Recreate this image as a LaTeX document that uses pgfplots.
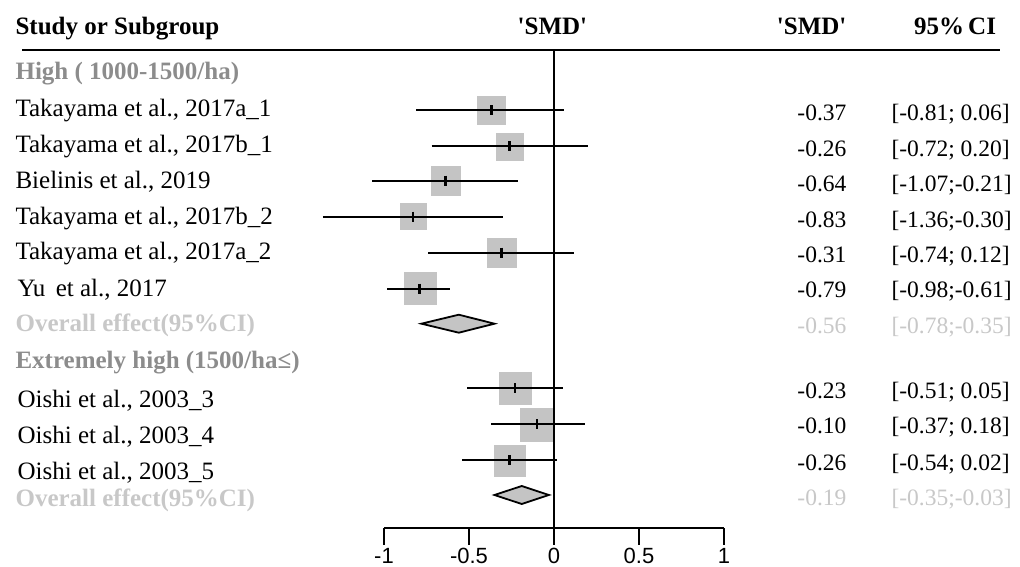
\documentclass[border=0pt]{standalone}
\usepackage{pgfplots}
\usepackage{pgfplotstable}
\pgfplotsset{compat=1.18}
\usepackage{fontspec}
\setmainfont{Liberation Serif}
\newfontfamily\tickfont{Liberation Sans}
\definecolor{sqgray}{HTML}{C4C4C4}
\definecolor{grpgray}{HTML}{8C8C8C}
\definecolor{ovgray}{HTML}{C8C8C8}
\newcommand\mf{\fontsize{25}{30}\selectfont}
\newcommand\rf{\fontsize{23.5}{28}\selectfont}
\pgfplotstableread{
y est lo hi s
-110.3 -0.37 -0.81 0.06 14
-146.3 -0.26 -0.72 0.20 13.5
-180.7 -0.64 -1.07 -0.21 14.5
-216.7 -0.83 -1.36 -0.30 13
-252.7 -0.31 -0.74 0.12 14.5
-288.7 -0.79 -0.98 -0.61 16
-388.3 -0.23 -0.51 0.05 16
-424.3 -0.10 -0.37 0.18 16.5
-460.3 -0.26 -0.54 0.02 15.5
}\studies
\begin{document}
\begin{tikzpicture}
\begin{axis}[
  scale only axis, width=340pt, height=478pt,
  xmin=-1, xmax=1, ymin=-528, ymax=-50,
  clip=false, clip marker paths=true,
  axis x line*=bottom, axis y line=none,
  x axis line style={line width=2.2pt, black},
  xtick={-1,-0.5,0,0.5,1}, ytick=\empty,
  tick align=outside, major tick length=17pt,
  every tick/.style={line width=2.2pt, black},
  xticklabel style={font=\tickfont\fontsize{22}{26}\selectfont, inner sep=0pt, yshift=-3pt},
  /pgf/number format/assume math mode=true,
  ci/.style={black, line width=2.2pt, mark=none},
  est/.style={black, line width=2.8pt, mark=none},
]
% header rule
\addplot[black, line width=2.4pt, mark=none] coordinates {(-3.129,-50) (2.624,-50)};
% squares
\addplot[scatter, only marks, mark=square*,
  scatter/use mapped color={draw=sqgray, fill=sqgray},
  visualization depends on={\thisrow{s} \as \sz},
  scatter/@pre marker code/.append style={/tikz/mark size=\sz pt}]
  table[x=est, y=y] {\studies};
% confidence intervals
\addplot[ci] coordinates {(-0.81,-110.3) (0.06,-110.3)};
\addplot[ci] coordinates {(-0.72,-146.3) (0.20,-146.3)};
\addplot[ci] coordinates {(-1.07,-180.7) (-0.21,-180.7)};
\addplot[ci] coordinates {(-1.36,-216.7) (-0.30,-216.7)};
\addplot[ci] coordinates {(-0.74,-252.7) (0.12,-252.7)};
\addplot[ci] coordinates {(-0.98,-288.7) (-0.61,-288.7)};
\addplot[ci] coordinates {(-0.51,-388.3) (0.05,-388.3)};
\addplot[ci] coordinates {(-0.37,-424.3) (0.18,-424.3)};
\addplot[ci] coordinates {(-0.54,-460.3) (0.02,-460.3)};
% point estimate ticks
\addplot[est] coordinates {(-0.37,-105.3) (-0.37,-115.3)};
\addplot[est] coordinates {(-0.26,-141.3) (-0.26,-151.3)};
\addplot[est] coordinates {(-0.64,-175.7) (-0.64,-185.7)};
\addplot[est] coordinates {(-0.83,-211.7) (-0.83,-221.7)};
\addplot[est] coordinates {(-0.31,-247.7) (-0.31,-257.7)};
\addplot[est] coordinates {(-0.79,-283.7) (-0.79,-293.7)};
\addplot[est] coordinates {(-0.23,-383.3) (-0.23,-393.3)};
\addplot[est] coordinates {(-0.10,-419.3) (-0.10,-429.3)};
\addplot[est] coordinates {(-0.26,-455.3) (-0.26,-465.3)};
% zero line
\addplot[black, line width=2.4pt, mark=none] coordinates {(0,-50) (0,-528)};
% overall diamonds
\addplot[fill=sqgray, draw=black, line width=1.8pt, mark=none]
  coordinates {(-0.78,-323.7) (-0.56,-314.7) (-0.35,-323.7) (-0.56,-332.7)} -- cycle;
\addplot[fill=sqgray, draw=black, line width=1.8pt, mark=none]
  coordinates {(-0.35,-495) (-0.19,-486) (-0.03,-495) (-0.19,-504)} -- cycle;

% header texts
\node[anchor=base west, font=\mf\bfseries] at (axis cs:-3.188,-35) {Study or Subgroup};
\node[anchor=base, font=\mf\bfseries] at (axis cs:-0.009,-35) {\textquotesingle SMD\textquotesingle};
\node[anchor=base east, font=\mf\bfseries] at (axis cs:1.741,-35) {\textquotesingle SMD\textquotesingle};
\node[anchor=base, font=\mf\bfseries] at (axis cs:2.359,-35) {95\%\,CI};

% group 1
\node[anchor=base west, font=\mf\bfseries, text=grpgray] at (axis cs:-3.188,-80) {High ( 1000-1500/ha)};
\node[anchor=base west, font=\mf] at (axis cs:-3.188,-117) {Takayama et al., 2017a\_1};
\node[anchor=base west, font=\mf] at (axis cs:-3.188,-153) {Takayama et al., 2017b\_1};
\node[anchor=base west, font=\mf] at (axis cs:-3.188,-189) {Bielinis et al., 2019};
\node[anchor=base west, font=\mf] at (axis cs:-3.188,-225) {Takayama et al., 2017b\_2};
\node[anchor=base west, font=\mf] at (axis cs:-3.188,-260) {Takayama et al., 2017a\_2};
\node[anchor=base west, font=\mf] at (axis cs:-3.176,-297) {Yu\,\ et al., 2017};
\node[anchor=base west, font=\mf\bfseries, text=ovgray] at (axis cs:-3.188,-332) {Overall effect(95\%CI)};
% group 2
\node[anchor=base west, font=\mf\bfseries, text=grpgray] at (axis cs:-3.188,-369) {Extremely high (1500/ha≤)};
\node[anchor=base west, font=\mf] at (axis cs:-3.176,-408) {Oishi et al., 2003\_3};
\node[anchor=base west, font=\mf] at (axis cs:-3.176,-444) {Oishi et al., 2003\_4};
\node[anchor=base west, font=\mf] at (axis cs:-3.176,-480) {Oishi et al., 2003\_5};
\node[anchor=base west, font=\mf\bfseries, text=ovgray] at (axis cs:-3.188,-507) {Overall effect(95\%CI)};

% right columns
\node[anchor=base east, font=\rf] at (axis cs:1.741,-121) {-0.37};
\node[anchor=base west, font=\rf] at (axis cs:1.965,-121) {[-0.81; 0.06]};
\node[anchor=base east, font=\rf] at (axis cs:1.741,-157) {-0.26};
\node[anchor=base west, font=\rf] at (axis cs:1.965,-157) {[-0.72; 0.20]};
\node[anchor=base east, font=\rf] at (axis cs:1.741,-192) {-0.64};
\node[anchor=base west, font=\rf] at (axis cs:1.965,-192) {[-1.07;-0.21]};
\node[anchor=base east, font=\rf] at (axis cs:1.741,-228) {-0.83};
\node[anchor=base west, font=\rf] at (axis cs:1.965,-228) {[-1.36;-0.30]};
\node[anchor=base east, font=\rf] at (axis cs:1.741,-263) {-0.31};
\node[anchor=base west, font=\rf] at (axis cs:1.965,-263) {[-0.74; 0.12]};
\node[anchor=base east, font=\rf] at (axis cs:1.741,-298) {-0.79};
\node[anchor=base west, font=\rf] at (axis cs:1.965,-298) {[-0.98;-0.61]};
\node[anchor=base east, font=\rf, text=ovgray] at (axis cs:1.741,-334) {-0.56};
\node[anchor=base west, font=\rf, text=ovgray] at (axis cs:1.965,-334) {[-0.78;-0.35]};
\node[anchor=base east, font=\rf] at (axis cs:1.741,-399) {-0.23};
\node[anchor=base west, font=\rf] at (axis cs:1.965,-399) {[-0.51; 0.05]};
\node[anchor=base east, font=\rf] at (axis cs:1.741,-434) {-0.10};
\node[anchor=base west, font=\rf] at (axis cs:1.965,-434) {[-0.37; 0.18]};
\node[anchor=base east, font=\rf] at (axis cs:1.741,-471) {-0.26};
\node[anchor=base west, font=\rf] at (axis cs:1.965,-471) {[-0.54; 0.02]};
\node[anchor=base east, font=\rf, text=ovgray] at (axis cs:1.741,-506) {-0.19};
\node[anchor=base west, font=\rf, text=ovgray] at (axis cs:1.965,-506) {[-0.35;-0.03]};
\end{axis}
\pgfresetboundingbox
\path (-384pt,-39pt) rectangle (636pt,528pt);
\end{tikzpicture}
\end{document}
